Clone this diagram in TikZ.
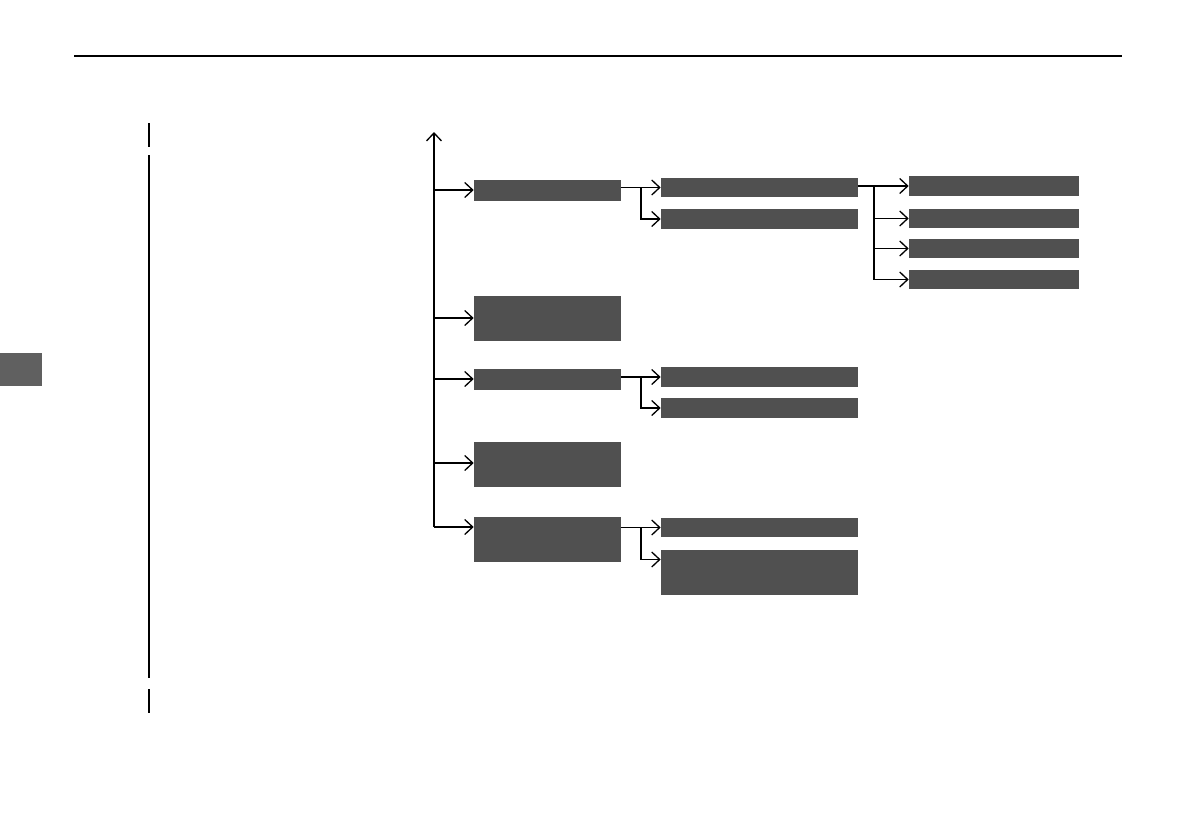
\documentclass[tikz,border=0pt]{standalone}
\definecolor{boxgray}{RGB}{80, 80, 80}
\definecolor{tabgray}{RGB}{96, 96, 96}
\usepackage{tikz}
\usetikzlibrary{arrows.meta, positioning, calc}

\begin{document}
\begin{tikzpicture}[
    x=0.02cm, y=-0.02cm,
    arr/.style={-{Straight Barb[length=1.6mm, width=3mm]}, line width=0.75pt},
    ln/.style={line width=0.75pt},
    box/.style={fill=boxgray, inner sep=0pt, minimum height=0.42cm},
    lvlone/.style={box, minimum width=2.94cm},
    lvltwo/.style={box, minimum width=3.94cm, minimum height=0.39cm},
    lvlthree/.style={box, minimum width=3.4cm, minimum height=0.39cm},
    tall/.style={minimum height=0.9cm}
  ]
    \useasboundingbox (0, 0) rectangle (1191, 839);
    \draw[line width=1.1pt] (74, 56) -- (1122, 56);
    \fill[tabgray] (0, 353) rectangle (42, 386);
    \draw[ln] (149, 123) -- (149, 147);
    \draw[ln] (149, 155) -- (149, 678);
    \draw[ln] (149, 689) -- (149, 713);

    \node[lvlone] (gen) at (547.5, 190.5) {};
    \node[lvlone, tall] (opt) at (547.5, 318) {};
    \node[lvlone] (sub) at (547.5, 379.5) {};
    \node[lvlone, tall] (rst) at (547.5, 464.5) {};
    \node[lvlone, tall] (inf) at (547.5, 539.5) {};

    \node[lvltwo] (gena) at (759.5, 187.5) {};
    \node[lvltwo] (genb) at (759.5, 219) {};
    \node[lvltwo] (suba) at (759.5, 377) {};
    \node[lvltwo] (subb) at (759.5, 408) {};
    \node[lvltwo] (infa) at (759.5, 527.5) {};
    \node[lvltwo, tall] (infb) at (759.5, 572.5) {};

    \node[lvlthree] (sela) at (994, 186) {};
    \node[lvlthree] (selb) at (994, 218.5) {};
    \node[lvlthree] (selc) at (994, 248.5) {};
    \node[lvlthree] (seld) at (994, 279.5) {};

    \coordinate (top) at (434, 132);
    \coordinate (t1) at (434, 190);
    \coordinate (t2) at (434, 318);
    \coordinate (t3) at (434, 379);
    \coordinate (t4) at (434, 463);
    \coordinate (t5) at (434, 527);
    \draw[arr] (t5) -- (top);
    \draw[arr] (t1) -- (t1 -| gen.west);
    \draw[arr] (t2) -- (t2 -| opt.west);
    \draw[arr] (t3) -- (t3 -| sub.west);
    \draw[arr] (t4) -- (t4 -| rst.west);
    \draw[arr] (t5) -- (t5 -| inf.west);

    \coordinate (sg) at (641, 187.5);
    \draw[arr] (gena.west -| gen.east) -- (gena.west);
    \draw[arr] (sg) |- (genb.west);
    \coordinate (ss) at (641, 377);
    \draw[arr] (suba.west -| sub.east) -- (suba.west);
    \draw[arr] (ss) |- (subb.west);
    \coordinate (si) at (641, 527.5);
    \draw[arr] (infa.west -| inf.east) -- (infa.west);
    \draw[arr] (si) |- ($(infb.west)+(0,-13)$);

    \coordinate (sl) at (874, 186);
    \draw[arr] (sela.west -| gena.east) -- (sela.west);
    \draw[arr] (sl) |- (selb.west);
    \draw[arr] (sl) |- (selc.west);
    \draw[arr] (sl) |- (seld.west);
  \end{tikzpicture}
\end{document}
